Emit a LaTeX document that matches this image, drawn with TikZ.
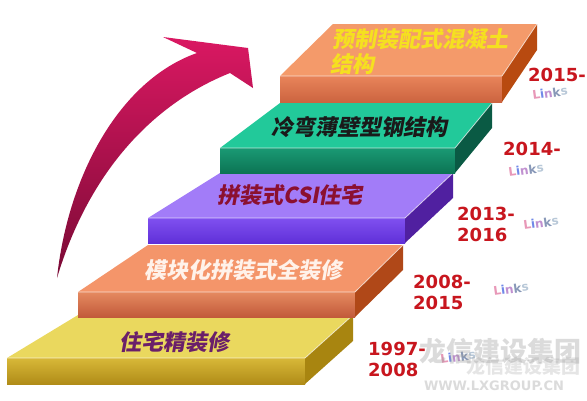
\documentclass[tikz,border=0pt]{standalone}
\usepackage{fontspec}
\newfontfamily\cjk[FakeSlant=0.18]{Noto Sans CJK SC}
\newfontfamily\cjkup{Noto Sans CJK SC}
\newfontfamily\yrfont{DejaVu Sans}
\definecolor{s1top}{HTML}{EAD85E}\definecolor{s1fa}{HTML}{D8B838}\definecolor{s1fb}{HTML}{B08C18}\definecolor{s1side}{HTML}{A88510}
\definecolor{s2top}{HTML}{F4956A}\definecolor{s2fa}{HTML}{E58A60}\definecolor{s2fb}{HTML}{C25A3A}\definecolor{s2side}{HTML}{B04818}
\definecolor{s3top}{HTML}{A27CF8}\definecolor{s3fa}{HTML}{8050F0}\definecolor{s3fb}{HTML}{6030D8}\definecolor{s3side}{HTML}{5020A0}
\definecolor{s4top}{HTML}{22C99A}\definecolor{s4fa}{HTML}{1A9A74}\definecolor{s4fb}{HTML}{0C7454}\definecolor{s4side}{HTML}{0A5A44}
\definecolor{s5top}{HTML}{F49A6A}\definecolor{s5fa}{HTML}{E8845A}\definecolor{s5fb}{HTML}{CC6440}\definecolor{s5side}{HTML}{B84A10}
\definecolor{arrA}{HTML}{DA1862}\definecolor{arrB}{HTML}{7A0A35}
\definecolor{yrred}{HTML}{C8161E}
\definecolor{txtA}{HTML}{6A1F6A}\definecolor{txtB}{HTML}{FFF2EA}\definecolor{txtC}{HTML}{8B1030}
\definecolor{txtD}{HTML}{1A1A1A}\definecolor{txtE}{HTML}{F5E020}
\definecolor{lkL}{HTML}{E898B8}\definecolor{lki}{HTML}{7088E8}\definecolor{lkn}{HTML}{C090D0}
\definecolor{lkk}{HTML}{8898B8}\definecolor{lks}{HTML}{B8C8D8}
\newcommand\linkstext{\textcolor{lkL}{L}\textcolor{lki}{i}\textcolor{lkn}{n}\textcolor{lkk}{k}\textcolor{lks}{s}}
% #1 colour prefix, #2 x1, #3 x2, #4 front top y, #5 front bottom y, #6 back y, #7 back-left x, #8 back-right x
\newcommand\slabdraw[8]{%
  \fill[#1top] (#2,#4) -- (#3,#4) -- (#8,#6) -- (#7,#6) -- cycle;
  \shade[top color=#1fa, bottom color=#1fb] (#2,#4) rectangle (#3,#5);
  \fill[#1side] (#3,#4) -- (#8,#6) -- ({#8},{#6+#5-#4}) -- (#3,#5) -- cycle;
  \draw[white, opacity=0.7, line width=0.8pt] (#2,#4) -- (#3,#4) -- (#8,#6);
}
\tikzset{
  cn/.style={font=\cjk\bfseries\fontsize{22}{24}\selectfont, inner sep=0pt, anchor=west},
  yrs/.style={font=\yrfont\bfseries\fontsize{18}{21}\selectfont, text=yrred, inner sep=0pt, anchor=north west, align=left},
  lk/.style={font=\yrfont\bfseries\fontsize{12}{13}\selectfont, inner sep=0pt, rotate=8},
  wm/.style={inner sep=0pt, text=black!40, opacity=0.35}
}
\begin{document}
\begin{tikzpicture}[x=1pt,y=-1pt]
\useasboundingbox (0,0) rectangle (587,400);
\fill[white] (0,0) rectangle (587,400);
% slabs, bottom to top
\slabdraw{s1}{7}{305}{358}{384}{315}{78}{353}
\slabdraw{s2}{78}{355}{292}{317}{245}{148}{403}
\slabdraw{s3}{148}{405}{218}{243}{173}{220}{453}
\slabdraw{s4}{220}{455}{148}{173}{103}{280}{492}
\slabdraw{s5}{280}{502}{76}{102}{24}{333}{537}
% arrow
\shade[top color=arrA, bottom color=arrB]
  (57,278) .. controls (68,175) and (120,80) .. (197,53) -- (163,37) -- (248,48)
  -- (253,88) -- (230,73) .. controls (150,105) and (88,175) .. (57,278) -- cycle;
% step labels
\node[cn, text=txtA] (t1) at (119,342) {住宅精装修};
\node[cn, text=txtB] (t2) at (144,270) {模块化拼装式全装修};
\node[cn, text=txtC] (t3) at (217,195) {拼装式CSI住宅};
\node[cn, text=txtD] (t4) at (271,127) {冷弯薄壁型钢结构};
\node[cn, text=txtE] (t5) at (332,39) {预制装配式混凝土};
\node[cn, text=txtE] (t6) at (330,64) {结构};
% years
\node[yrs] (y5) at (528,68) {2015-};
\node[yrs] (y4) at (503,142) {2014-};
\node[yrs] (y3) at (457,207) {2013-\\2016};
\node[yrs] (y2) at (413,275) {2008-\\2015};
\node[yrs] (y1) at (368,342) {1997-\\2008};
% Links
\node[lk] (l5) at (550,93) {\linkstext};
\node[lk] (l4) at (526,170) {\linkstext};
\node[lk] (l3) at (541,223) {\linkstext};
\node[lk] (l2) at (511,289) {\linkstext};
\node[lk] (l1) at (458,357) {\linkstext};
% watermark
\node[wm, font=\cjkup\bfseries\fontsize{27}{28}\selectfont] (w1) at (500,351) {龙信建设集团};
\node[wm, opacity=0.25, font=\cjkup\bfseries\fontsize{19}{20}\selectfont] (w2) at (523,366) {龙信建设集团};
\node[wm, font=\yrfont\bfseries\fontsize{13}{14}\selectfont] (w3) at (494,386) {WWW.LXGROUP.CN};
\end{tikzpicture}
\end{document}
